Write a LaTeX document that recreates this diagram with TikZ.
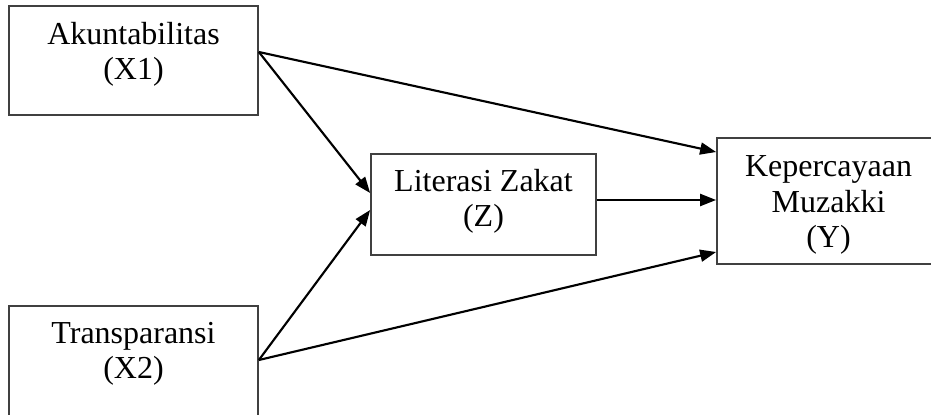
\documentclass[tikz,border=0pt]{standalone}
\usepackage{fontspec}
\setmainfont{Liberation Serif}
\usetikzlibrary{arrows.meta,calc}

\begin{document}
\begin{tikzpicture}[x=0.75pt,y=-0.75pt,
 var/.style={draw=black!75, line width=1.3pt, fill=white, inner sep=0pt},
 txt/.style={align=center, inner sep=0pt, font=\fontsize{24}{26.5}\selectfont},
 link/.style={line width=1.6pt, -{Triangle[length=12pt,width=9pt]}}]
\useasboundingbox (0,0) rectangle (931,414);
\clip (0,0) rectangle (931,414);

% variables
\node [var, minimum width=186.75pt, minimum height=81.75pt] (x1) at (133.5,60.5) {};
\node [var, minimum width=186.75pt, minimum height=84pt] (x2) at (133.5,362) {};
\node [var, minimum width=168.75pt, minimum height=75.75pt] (z) at (483.5,204.5) {};
\node [var, minimum width=167.25pt, minimum height=94.5pt] (y) at (828.5,201) {};
\node [txt] (x1t) at ($(x1)+(0,-6)$) {Akuntabilitas\\(X1)};
\node [txt] (x2t) at ($(x2)+(0,-8)$) {Transparansi\\(X2)};
\node [txt] (zt) at ($(z)+(0,-3)$) {Literasi Zakat\\(Z)};
\node [txt] (yt) at ($(y)+(0,4)$) {Kepercayaan\\Muzakki\\(Y)};

% paths
\coordinate (x1o) at ($(x1.east)+(0,-8.5)$);
\coordinate (x2o) at ($(x2.east)+(0,-2)$);
\draw [link] (x1o) -- ($(z.west)+(0,-11.5)$);
\draw [link] (x1o) -- ($(y.west)+(0,-49)$);
\draw [link] (x2o) -- ($(z.west)+(0,5.5)$);
\draw [link] (x2o) -- ($(y.west)+(0,51)$);
\draw [link] ($(z.east)+(0,-4.5)$) -- ($(y.west)+(0,-1)$);

\end{tikzpicture}
\end{document}
